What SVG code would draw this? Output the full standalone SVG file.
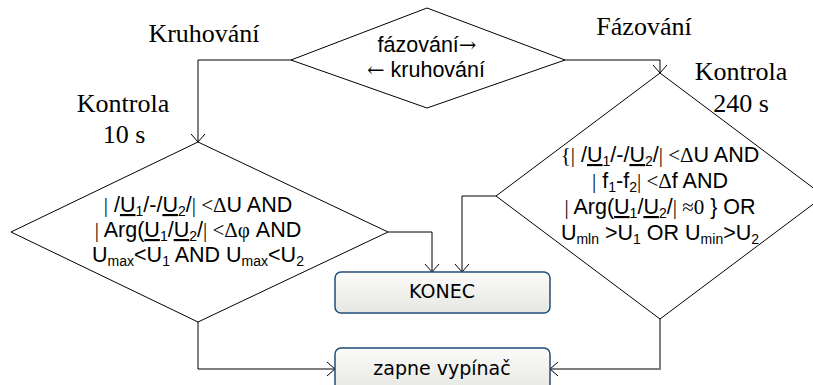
<svg xmlns="http://www.w3.org/2000/svg" width="813" height="385" viewBox="0 0 813 385">
<defs>
<linearGradient id="bg" x1="0" y1="0" x2="0" y2="1">
<stop offset="0" stop-color="#fbfbfa"/>
<stop offset="1" stop-color="#e6e6e2"/>
</linearGradient>
<marker id="ar" markerUnits="userSpaceOnUse" markerWidth="20" markerHeight="20" viewBox="-10 -10 20 20" refX="0" refY="0" orient="auto">
<path d="M-8,-7 L0,0 L-8,7" fill="none" stroke="#000" stroke-width="1"/>
</marker>
</defs>
<style>
.d{fill:#fff;stroke:#000;stroke-width:1}
.b{fill:url(#bg);stroke:#1f4e79;stroke-width:1.5}
.c{fill:none;stroke:#000;stroke-width:1}
.g{fill:none;stroke:#7f7f7f;stroke-width:2}
.lab{font-family:"Liberation Serif","Times New Roman",serif;font-size:26px;fill:#000;text-anchor:middle}
.t{font-family:"Liberation Sans",Arial,sans-serif;font-size:21.5px;fill:#000;text-anchor:middle}
.s{font-family:"Liberation Serif","Times New Roman",serif;font-size:21px}
.ar{font-family:"DejaVu Serif",serif;font-size:21px}
.sub{font-size:14px}
.bt{font-family:"DejaVu Sans",Tahoma,sans-serif;font-size:19px;fill:#000;text-anchor:middle}
.u{text-decoration:underline}
</style>

<g id="labels">
<text class="lab" x="204" y="42">Kruhování</text>
<text class="lab" x="644" y="35">Fázování</text>
<text class="lab" x="123" y="112">Kontrola</text>
<text class="lab" x="124" y="143">10 s</text>
<text class="lab" x="741" y="80">Kontrola</text>
<text class="lab" x="741" y="112">240 s</text>
</g>

<g id="connectors">
<polyline class="c" points="291,60 198,60 198,142" marker-end="url(#ar)"/>
<polyline class="c" points="565,60 660,60 660,73" marker-end="url(#ar)"/>
<polyline class="c" points="388,232 432,232 432,272" marker-end="url(#ar)"/>
<polyline class="c" points="496,196 462,196 462,272" marker-end="url(#ar)"/>
<polyline class="c" points="198,322 198,369 335,369" marker-end="url(#ar)"/>
<polyline class="g" points="660,319 660,369 550,369" marker-end="url(#ar)"/>
</g>

<g id="decision-mode">
<polygon class="d" points="291,60 427,8 565,60 427,108"/>
<text class="t" x="427" y="52">fázování<tspan class="ar">→</tspan></text>
<text class="t" x="426" y="77"><tspan class="ar">←</tspan> kruhování</text>
</g>

<g id="decision-kruhovani">
<polygon class="d" points="11,232 198,142 388,232 198,322"/>
<text class="t" x="198" y="212"><tspan class="s">|</tspan> /<tspan class="u">U</tspan><tspan class="sub" dy="4">1</tspan><tspan dy="-4">/-/</tspan><tspan class="u">U</tspan><tspan class="sub" dy="4">2</tspan><tspan dy="-4">/</tspan><tspan class="s">| &lt;Δ</tspan>U AND</text>
<text class="t" x="198" y="237"><tspan class="s">|</tspan> Arg(<tspan class="u">U</tspan><tspan class="sub" dy="4">1</tspan><tspan dy="-4">/</tspan><tspan class="u">U</tspan><tspan class="sub" dy="4">2</tspan><tspan dy="-4">/</tspan><tspan class="s">| &lt;Δφ</tspan> AND</text>
<text class="t" x="198" y="262">U<tspan class="sub" dy="4">max</tspan><tspan dy="-4">&lt;U</tspan><tspan class="sub" dy="4">1</tspan><tspan dy="-4"> AND U</tspan><tspan class="sub" dy="4">max</tspan><tspan dy="-4">&lt;U</tspan><tspan class="sub" dy="4">2</tspan></text>
</g>

<g id="decision-fazovani">
<polygon class="d" points="496,196 660,73 824,196 660,319"/>
<text class="t" x="660" y="162"><tspan class="s">{|</tspan> /<tspan class="u">U</tspan><tspan class="sub" dy="4">1</tspan><tspan dy="-4">/-/</tspan><tspan class="u">U</tspan><tspan class="sub" dy="4">2</tspan><tspan dy="-4">/</tspan><tspan class="s">| &lt;Δ</tspan>U AND</text>
<text class="t" x="660" y="188"><tspan class="s">|</tspan> f<tspan class="sub" dy="4">1</tspan><tspan dy="-4">-f</tspan><tspan class="sub" dy="4">2</tspan><tspan dy="-4" class="s">| &lt;Δ</tspan>f AND</text>
<text class="t" x="660" y="214"><tspan class="s">|</tspan> Arg(<tspan class="u">U</tspan><tspan class="sub" dy="4">1</tspan><tspan dy="-4">/</tspan><tspan class="u">U</tspan><tspan class="sub" dy="4">2</tspan><tspan dy="-4">/</tspan><tspan class="s">| ≈0</tspan> } OR</text>
<text class="t" x="660" y="240">U<tspan class="sub" dy="4">mln</tspan><tspan dy="-4"> &gt;U</tspan><tspan class="sub" dy="4">1</tspan><tspan dy="-4"> OR U</tspan><tspan class="sub" dy="4">min</tspan><tspan dy="-4">&gt;U</tspan><tspan class="sub" dy="4">2</tspan></text>
</g>

<g id="konec">
<rect class="b" x="335" y="272" width="215" height="41" rx="6"/>
<text class="bt" x="442" y="298">KONEC</text>
</g>

<g id="zapne">
<rect class="b" x="335" y="348" width="215" height="44" rx="6"/>
<text class="bt" x="442" y="375">zapne vypínač</text>
</g>
</svg>
